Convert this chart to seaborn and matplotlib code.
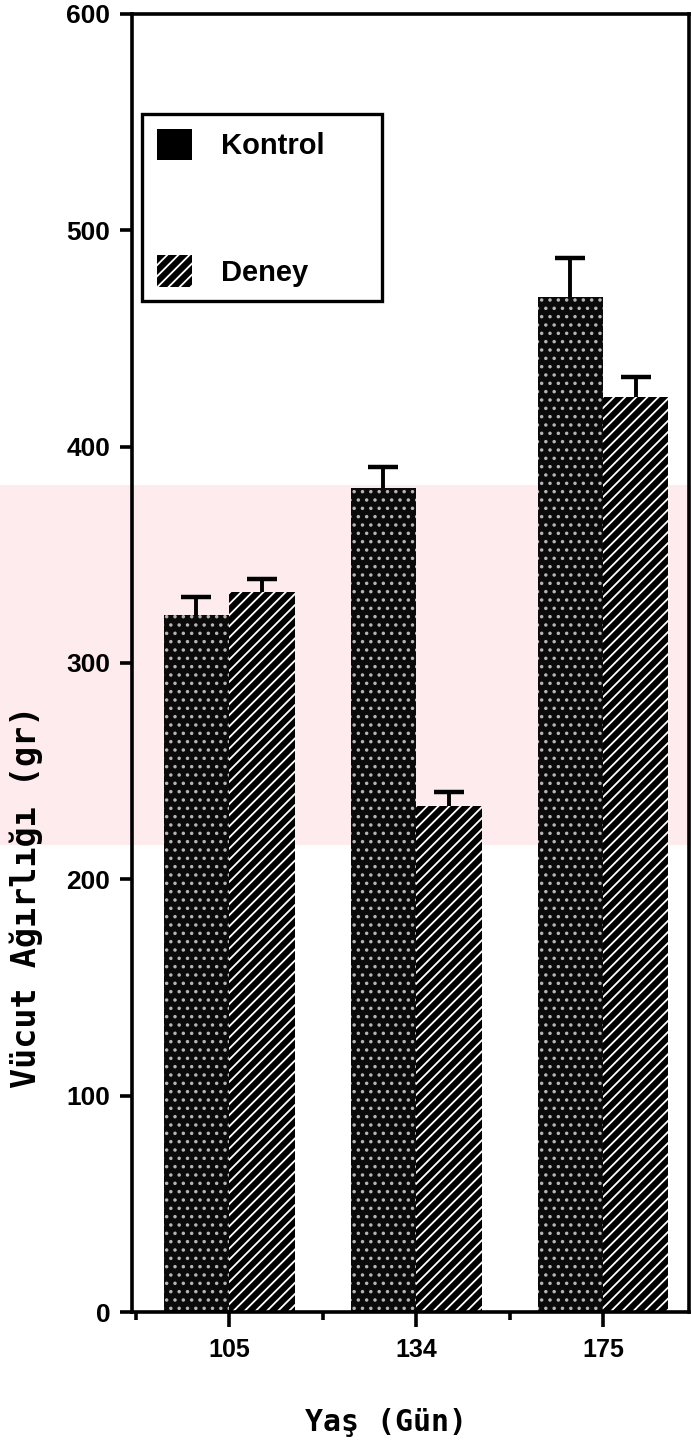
import pandas as pd
import matplotlib.pyplot as plt
import seaborn as sns
from matplotlib.patches import Patch, Rectangle

# values
ages = ['105', '134', '175']
kontrol = [322, 381, 469]
kontrol_err = [8.5, 9.5, 18]
deney = [333, 234, 423]
deney_err = [6, 6.5, 9]
groups = ['Kontrol', 'Deney']

df = pd.DataFrame({
    'Yas': ages * 2,
    'Agirlik': kontrol + deney,
    'Grup': ['Kontrol'] * 3 + ['Deney'] * 3,
})
errs = {'Kontrol': kontrol_err, 'Deney': deney_err}

sns.set_style('ticks')
plt.rcParams['font.family'] = ['Liberation Sans', 'DejaVu Sans']
plt.rcParams['hatch.linewidth'] = 1.3
for k in ['text.color', 'axes.labelcolor', 'xtick.color', 'ytick.color']:
    plt.rcParams[k] = 'black'

fig = plt.figure(figsize=(6.91, 14.45), dpi=100)

# pale pink watermark band behind the plot
fig.add_artist(Rectangle((0, 1 - 845 / 1445), 1, 360 / 1445, transform=fig.transFigure,
                         facecolor='#fdebee', edgecolor='none', zorder=-1))

ax = fig.add_axes([132 / 691, 1 - 1312 / 1445, 557 / 691, 1298 / 1445])
ax.patch.set_alpha(0)

sns.barplot(data=df, x='Yas', y='Agirlik', hue='Grup', hue_order=groups,
            palette=['black', 'black'], width=0.7, errorbar=None, legend=False,
            saturation=1, ax=ax)

styles = {'Kontrol': ('#0a0a0a', '#b5b5b5', '..'), 'Deney': ('black', 'white', '///')}
for cont, g in zip(ax.containers, groups):
    face, hcol, hatch = styles[g]
    xs = []
    for bar in cont:
        bar.set_facecolor(face)
        bar.set_edgecolor(hcol)
        bar.set_linewidth(0)
        bar.set_hatch(hatch)
        xs.append(bar.get_x() + bar.get_width() / 2)
    ys = [b.get_height() for b in cont]
    eb = ax.errorbar(xs, ys, yerr=[[0] * len(ys), errs[g]], fmt='none', ecolor='black',
                     elinewidth=2.8, capsize=11, capthick=3.2, zorder=3)
    eb[1][0].set_visible(False)

ax.set_ylim(0, 600)
ax.set_xlim(-0.52, 2.46)
ax.set_yticks(range(0, 601, 100))
ax.set_xticks([-0.5, 0.5, 1.5], minor=True)

for s in ax.spines.values():
    s.set_visible(True)
    s.set_linewidth(2.6)
    s.set_color('black')

ax.tick_params(axis='y', length=8.5, width=2.6, pad=7, labelsize=19)
ax.tick_params(axis='x', which='major', length=11, width=2.6, pad=8, labelsize=18)
ax.tick_params(axis='x', which='minor', length=6, width=2.6)
for lab in ax.get_yticklabels() + ax.get_xticklabels():
    lab.set_fontweight('bold')

ax.set_ylabel('Vücut Ağırlığı (gr)', family=['DejaVu Sans Mono'], fontweight='bold', fontsize=24)
ax.yaxis.set_label_coords(-0.16, 0.32)
ax.set_xlabel('Yaş (Gün)', family=['DejaVu Sans Mono'], fontweight='bold', fontsize=21.5)
ax.xaxis.set_label_coords(0.456, -0.074)

handles = [Patch(facecolor='black', edgecolor='black', linewidth=0),
           Patch(facecolor='black', edgecolor='white', hatch='///', linewidth=0)]
leg = ax.legend(handles, groups, loc='upper left', bbox_to_anchor=(0.018, 0.77, 0.431, 0.153),
                mode='expand', borderaxespad=0, frameon=True, fancybox=False, framealpha=1,
                prop={'family': 'Liberation Sans', 'weight': 'bold', 'size': 21},
                handlelength=1.2, handleheight=1.3, handletextpad=1.0,
                labelspacing=3.25, borderpad=0.5)
leg.get_frame().set_edgecolor('black')
leg.get_frame().set_linewidth(2.4)

fig.savefig('out.png', dpi=100)
